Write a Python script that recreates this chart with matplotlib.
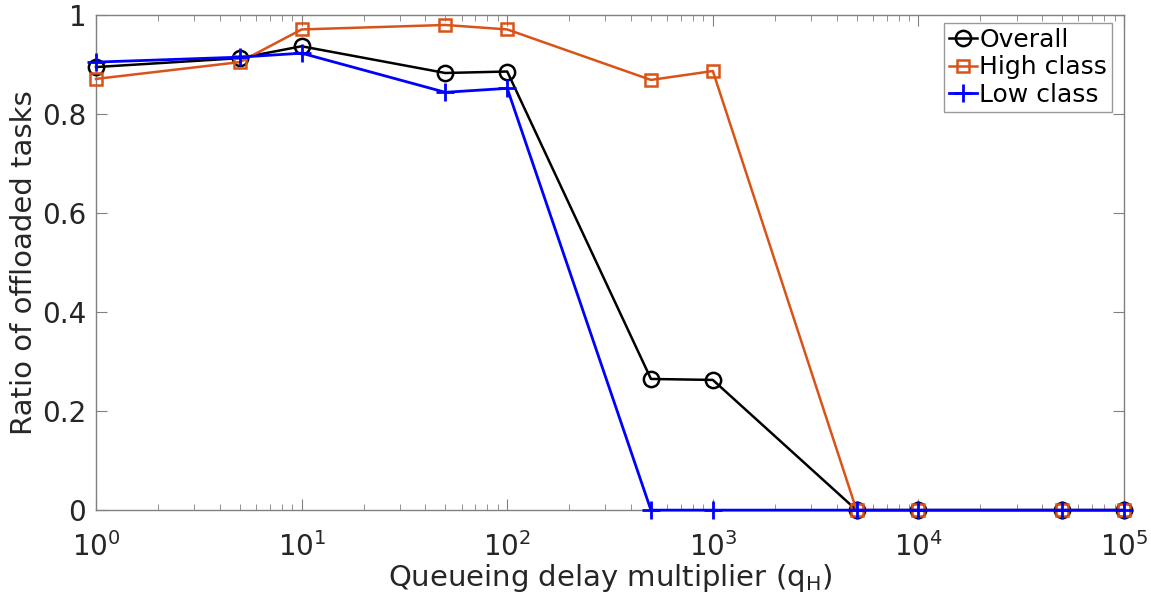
import matplotlib
matplotlib.use('Agg')
import matplotlib.pyplot as plt
from matplotlib.ticker import LogLocator, NullFormatter

# 数据
q_h = [1, 5, 10, 50, 100, 500, 1000, 5000, 10000, 50000, 100000]
overall = [0.895, 0.913, 0.937, 0.883, 0.886, 0.265, 0.263, 0, 0, 0, 0]
high_class = [0.871, 0.905, 0.971, 0.980, 0.971, 0.869, 0.887, 0, 0, 0, 0]
low_class = [0.905, 0.915, 0.923, 0.844, 0.852, 0, 0, 0, 0, 0, 0]

plt.rcParams['font.family'] = ['DejaVu Sans']

fig = plt.figure(figsize=(11.51, 6.03), dpi=100)
ax = fig.add_axes([0.0834, 0.154, 0.8932, 0.821])

ax.plot(q_h, overall, '-', color='black', lw=1.8, marker='o', ms=11,
        mfc='none', mew=1.8, label='Overall', clip_on=False, zorder=3)
ax.plot(q_h, high_class, '-', color='#D95319', lw=1.8, marker='s', ms=8,
        mfc='none', mew=1.8, label='High class', clip_on=False, zorder=3)
ax.plot(q_h, low_class, '-', color='#0000FF', lw=2, marker='+', ms=13,
        mew=2, label='Low class', clip_on=False, zorder=3)

ax.set_xscale('log')
ax.set_xlim(1, 1e5)
ax.set_ylim(0, 1)
ax.set_yticks([0, 0.2, 0.4, 0.6, 0.8, 1])
ax.set_yticklabels(['0', '0.2', '0.4', '0.6', '0.8', '1'])
ax.xaxis.set_major_locator(LogLocator(base=10, numticks=10))
ax.xaxis.set_minor_locator(LogLocator(base=10, subs=range(2, 10), numticks=20))
ax.xaxis.set_minor_formatter(NullFormatter())

for s in ax.spines.values():
    s.set_color('#808080')
    s.set_linewidth(1)
ax.tick_params(which='both', direction='in', top=True, right=True,
               color='#808080', labelcolor='#262626', labelsize=20)
ax.tick_params(which='major', length=8)
ax.tick_params(which='minor', length=4)
ax.tick_params(axis='x', pad=16)
ax.tick_params(axis='y', pad=7)

ax.set_xlabel('Queueing delay multiplier (q$_\\mathregular{H}$)', fontsize=21,
              color='#262626', labelpad=0)
ax.set_ylabel('Ratio of offloaded tasks', fontsize=21, color='#262626', labelpad=3)

leg = ax.legend(loc='upper right', bbox_to_anchor=(0.9885, 0.985), fontsize=18,
                frameon=True, fancybox=False, handlelength=1.1, handletextpad=0.1,
                borderpad=0.2, labelspacing=0.15, borderaxespad=0.0)
leg.get_frame().set_edgecolor('#808080')
leg.get_frame().set_linewidth(1)

fig.savefig('out.png', dpi=100)
